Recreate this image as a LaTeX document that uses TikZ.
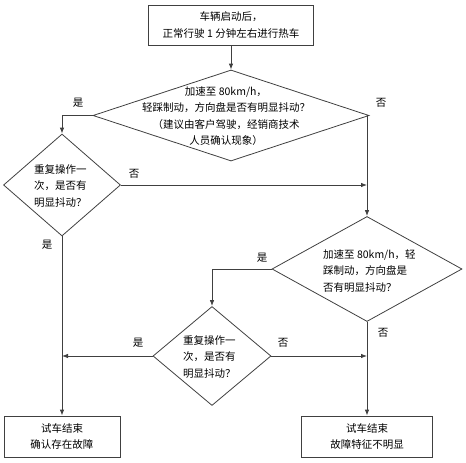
\documentclass[tikz,border=0pt]{standalone}
\usepackage{fontspec}
\setmainfont{Noto Sans CJK SC}
\usetikzlibrary{shapes.geometric,arrows.meta}
\begin{document}
\begin{tikzpicture}[x=1pt,y=-1pt,
  font=\fontsize{10.5}{16.5}\selectfont,
  line/.style={draw=black!75,line width=0.8pt},
  arr/.style={line,-{Latex[length=6pt,width=4.5pt]}},
  boxnode/.style={line,rectangle,inner sep=0pt},
  dia/.style={line,diamond,inner sep=0pt},
  lab/.style={inner sep=0pt}]
\useasboundingbox (0,0) rectangle (466,463);
% nodes
\node[boxnode,minimum width=165pt,minimum height=40pt] (b0) at (231,25) {};
\node[lab,align=center] (t0) at (b0) {车辆启动后，\\正常行驶 1 分钟左右进行热车};
\node[dia,minimum width=276pt,minimum height=91pt] (d1) at (231,115.5) {};
\node[lab,align=center] (t1) at (226,116) {加速至 80km/h，\\轻踩制动，方向盘是否有明显抖动？\\（建议由客户驾驶，经销商技术\\人员确认现象）};
\node[dia,minimum width=117pt,minimum height=102pt] (d2) at (62,185) {};
\node[lab,align=left,anchor=west] (t2) at (34,186) {重复操作一\\次，是否有\\明显抖动？};
\node[dia,minimum width=190pt,minimum height=105pt] (d3) at (367,269) {};
\node[lab,align=left,anchor=west] (t3) at (323,271) {加速至 80km/h，轻\\踩制动，方向盘是\\否有明显抖动？};
\node[dia,minimum width=118pt,minimum height=99pt] (d4) at (212,356) {};
\node[lab,align=left,anchor=west] (t4) at (183,357) {重复操作一\\次，是否有\\明显抖动？};
\node[boxnode,minimum width=116pt,minimum height=41pt] (e1) at (62,436.5) {};
\node[lab,align=center] (te1) at (e1) {试车结束\\确认存在故障};
\node[boxnode,minimum width=131pt,minimum height=41pt] (e2) at (367,436.5) {};
\node[lab,align=center] (te2) at (e2) {试车结束\\故障特征不明显};
% junctions
\coordinate (j1) at (d3.north |- d2.east);
\coordinate (j2) at (d2.south |- d4.west);
\coordinate (j3) at (d3.south |- d4.east);
% connectors
\draw[arr] (b0.south) -- (d1.north);
\draw[arr] (d1.west) -| (d2.north);
\draw[arr] (d1.east) -| (d3.north);
\draw[arr] (d2.east) -- (j1);
\draw[arr] (d2.south) -- (e1.north);
\draw[arr] (d3.west) -| (d4.north);
\draw[arr] (d3.south) -- (e2.north);
\draw[arr] (d4.west) -- (j2);
\draw[arr] (d4.east) -- (j3);
% labels
\node[lab] (l1) at (78,103) {是};
\node[lab] (l2) at (381,103) {否};
\node[lab] (l3) at (134,174) {否};
\node[lab] (l4) at (47,245) {是};
\node[lab] (l5) at (262,258) {是};
\node[lab] (l6) at (383,333) {否};
\node[lab] (l7) at (138,343) {是};
\node[lab] (l8) at (283,343) {否};
\end{tikzpicture}
\end{document}
